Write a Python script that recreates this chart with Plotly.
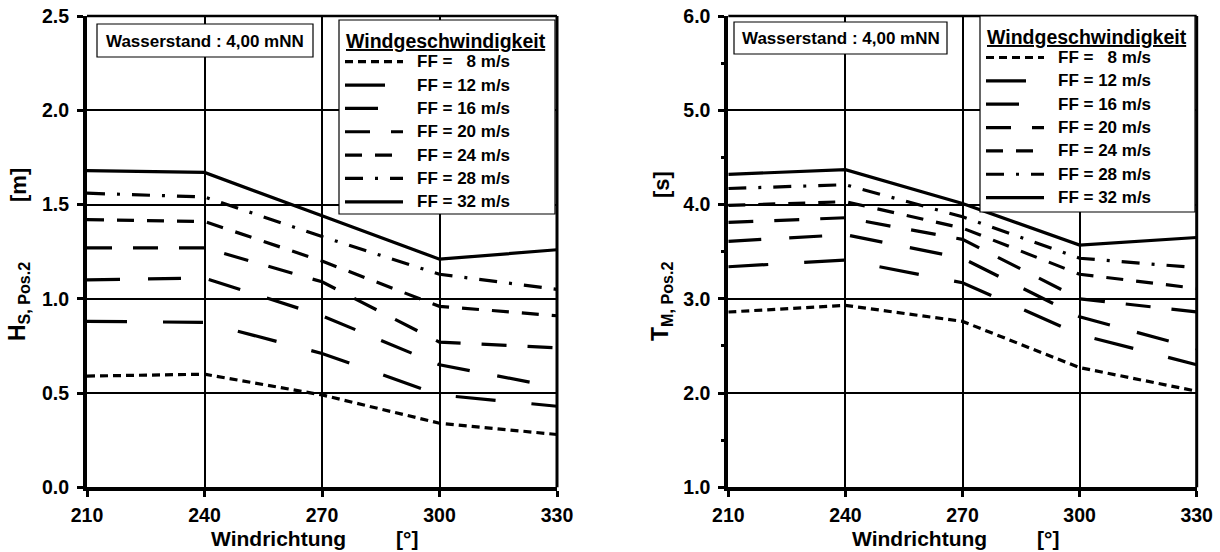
import plotly.graph_objects as go

# Wind direction (degrees) shared by both panels
windrichtung = [210, 240, 270, 300, 330]

# Wind speeds (m/s) of the seven curves
ff_values = [8, 12, 16, 20, 24, 28, 32]

# Significant wave height Hs at position 2 [m], one list per wind speed
hs_ff8 = [0.59, 0.60, 0.49, 0.34, 0.28]
hs_ff12 = [0.88, 0.875, 0.71, 0.49, 0.43]
hs_ff16 = [1.10, 1.11, 0.91, 0.65, 0.53]
hs_ff20 = [1.27, 1.27, 1.09, 0.77, 0.74]
hs_ff24 = [1.42, 1.41, 1.20, 0.96, 0.91]
hs_ff28 = [1.56, 1.54, 1.33, 1.13, 1.05]
hs_ff32 = [1.68, 1.67, 1.44, 1.21, 1.26]

# Mean wave period Tm at position 2 [s], one list per wind speed
tm_ff8 = [2.86, 2.93, 2.76, 2.27, 2.02]
tm_ff12 = [3.34, 3.41, 3.17, 2.62, 2.30]
tm_ff16 = [3.61, 3.68, 3.43, 2.81, 2.47]
tm_ff20 = [3.81, 3.86, 3.63, 3.00, 2.86]
tm_ff24 = [3.99, 4.03, 3.75, 3.26, 3.11]
tm_ff28 = [4.17, 4.21, 3.87, 3.43, 3.33]
tm_ff32 = [4.32, 4.37, 4.01, 3.57, 3.65]

hs_series = [hs_ff8, hs_ff12, hs_ff16, hs_ff20, hs_ff24, hs_ff28, hs_ff32]
tm_series = [tm_ff8, tm_ff12, tm_ff16, tm_ff20, tm_ff24, tm_ff28, tm_ff32]

x_ticks = [210, 240, 270, 300, 330]
hs_ticks = [0.0, 0.5, 1.0, 1.5, 2.0, 2.5]
tm_ticks = [1.0, 2.0, 3.0, 4.0, 5.0, 6.0]

dash_styles = ["8px,5px", "40px,36px", "33px,28px", "25px,21px",
               "17px,13px", "18px,12px,3px,12px", "solid"]

W, H = 1220, 552
FONT = "Liberation Sans, Arial, sans-serif"


def px(x):
    return x / W


def py(y):
    return 1 - y / H


def ff_label(v):
    num = f"{v}" if v >= 10 else "\u00a0\u00a0" + f"{v}"
    return f"FF = {num} m/s"


fig = go.Figure()

for vals, ff, dash in zip(hs_series, ff_values, dash_styles):
    fig.add_trace(go.Scatter(x=windrichtung, y=vals, mode="lines", name=ff_label(ff),
                             line=dict(color="black", width=3.2, dash=dash),
                             xaxis="x", yaxis="y", showlegend=False))
for vals, ff, dash in zip(tm_series, ff_values, dash_styles):
    fig.add_trace(go.Scatter(x=windrichtung, y=vals, mode="lines", name=ff_label(ff),
                             line=dict(color="black", width=3.2, dash=dash),
                             xaxis="x2", yaxis="y2", showlegend=False))

# Panel geometry in pixels
panels = [
    dict(left=87, right=557, top=16, bottom=487.3,
         wbox=(97, 313, 24, 57), lbox=(339, 555, 20, 214), ltitle=40.7,
         ytitle="H<sub>S, Pos.2</sub>", yunit="[m]", ytx=18),
    dict(left=728.3, right=1196.7, top=16, bottom=487.3,
         wbox=(734, 947, 22, 54), lbox=(980, 1195, 16, 212), ltitle=36.5,
         ytitle="T<sub>M, Pos.2</sub>", yunit="[s]", ytx=661),
]

tick_x_font = dict(family=FONT, size=19.5, color="black", weight="bold")
tick_y_font = dict(family=FONT, size=19.5, color="black", weight="bold")
axis_common = dict(showline=True, linecolor="black", linewidth=4,
                   showgrid=True, gridcolor="black", gridwidth=2,
                   zeroline=False, ticks="outside", ticklen=6, tickwidth=3,
                   tickcolor="black", fixedrange=True, automargin=False)

layout = dict(
    width=W, height=H, autosize=False,
    margin=dict(l=0, r=0, t=0, b=0, pad=0, autoexpand=False),
    paper_bgcolor="white", plot_bgcolor="white", showlegend=False,
    xaxis=dict(domain=[px(87), px(557)], range=[210, 330], tickvals=x_ticks,
               anchor="y", tickfont=tick_x_font, ticklabelstandoff=1, **axis_common),
    yaxis=dict(domain=[py(487.3), py(16)], range=[0, 2.5], tickvals=hs_ticks,
               ticktext=[f"{v:.1f}" for v in hs_ticks],
               anchor="x", tickfont=tick_y_font, ticklabelstandoff=4, **axis_common),
    xaxis2=dict(domain=[px(728.3), px(1196.7)], range=[210, 330], tickvals=x_ticks,
                anchor="y2", tickfont=tick_x_font, ticklabelstandoff=1, **axis_common),
    yaxis2=dict(domain=[py(487.3), py(16)], range=[1, 6], tickvals=tm_ticks,
                ticktext=[f"{v:.1f}" for v in tm_ticks],
                anchor="x2", tickfont=tick_y_font, ticklabelstandoff=4,
                minor=dict(dtick=0.5, tick0=1, ticks="outside", ticklen=3,
                           tickwidth=3, tickcolor="black", showgrid=False),
                **axis_common),
)
fig.update_layout(**layout)

shapes = []
annotations = []
for p in panels:
    # frame: top and right border
    shapes.append(dict(type="line", xref="paper", yref="paper",
                       x0=px(p["left"]), x1=px(p["right"]), y0=py(p["top"]), y1=py(p["top"]),
                       line=dict(color="black", width=2.5)))
    shapes.append(dict(type="line", xref="paper", yref="paper",
                       x0=px(p["right"]), x1=px(p["right"]), y0=py(p["top"]), y1=py(p["bottom"]),
                       line=dict(color="black", width=3)))
    # water level box
    x0, x1, y0, y1 = p["wbox"]
    shapes.append(dict(type="rect", xref="paper", yref="paper",
                       x0=px(x0), x1=px(x1), y0=py(y1), y1=py(y0),
                       fillcolor="white", line=dict(color="black", width=1.2)))
    annotations.append(dict(xref="paper", yref="paper", x=px((x0 + x1) / 2), y=py((y0 + y1) / 2 + 1),
                            text="Wasserstand : 4,00 mNN", showarrow=False,
                            xanchor="center", yanchor="middle",
                            font=dict(family=FONT, size=17, color="black", weight="bold")))
    # legend box
    lx0, lx1, ly0, ly1 = p["lbox"]
    shapes.append(dict(type="rect", xref="paper", yref="paper",
                       x0=px(lx0), x1=px(lx1), y0=py(ly1), y1=py(ly0),
                       fillcolor="white", line=dict(color="black", width=1.2)))
    annotations.append(dict(xref="paper", yref="paper", x=px(lx0 + 5), y=py(p["ltitle"]),
                            text="<u>Windgeschwindigkeit</u>", showarrow=False,
                            xanchor="left", yanchor="middle",
                            font=dict(family=FONT, size=19.5, color="black", weight="bold")))
    for i, (ff, dash) in enumerate(zip(ff_values, dash_styles)):
        ey = p["ltitle"] + 21 + i * 23.35
        shapes.append(dict(type="line", xref="paper", yref="paper",
                           x0=px(lx0 + 6), x1=px(lx0 + 64), y0=py(ey), y1=py(ey),
                           line=dict(color="black", width=3.2, dash=dash)))
        annotations.append(dict(xref="paper", yref="paper", x=px(lx0 + 76), y=py(ey),
                                text=ff_label(ff), showarrow=False,
                                xanchor="left", yanchor="middle",
                                font=dict(family=FONT, size=17, color="black", weight="bold")))
    # axis titles
    annotations.append(dict(xref="paper", yref="paper", x=px(p["left"] + 191), y=py(538),
                            text="Windrichtung", showarrow=False,
                            xanchor="center", yanchor="middle",
                            font=dict(family=FONT, size=21, color="black", weight="bold")))
    annotations.append(dict(xref="paper", yref="paper", x=px(p["left"] + 320), y=py(538),
                            text="[°]", showarrow=False,
                            xanchor="center", yanchor="middle",
                            font=dict(family=FONT, size=21, color="black", weight="bold")))
    annotations.append(dict(xref="paper", yref="paper", x=px(p["ytx"]), y=py(302),
                            text=p["ytitle"], showarrow=False, textangle=-90,
                            xanchor="center", yanchor="middle",
                            font=dict(family=FONT, size=23, color="black", weight="bold")))
    annotations.append(dict(xref="paper", yref="paper", x=px(p["ytx"]), y=py(185),
                            text=p["yunit"], showarrow=False, textangle=-90,
                            xanchor="center", yanchor="middle",
                            font=dict(family=FONT, size=22, color="black", weight="bold")))

fig.update_layout(shapes=shapes, annotations=annotations)
fig.write_html("out.html")
